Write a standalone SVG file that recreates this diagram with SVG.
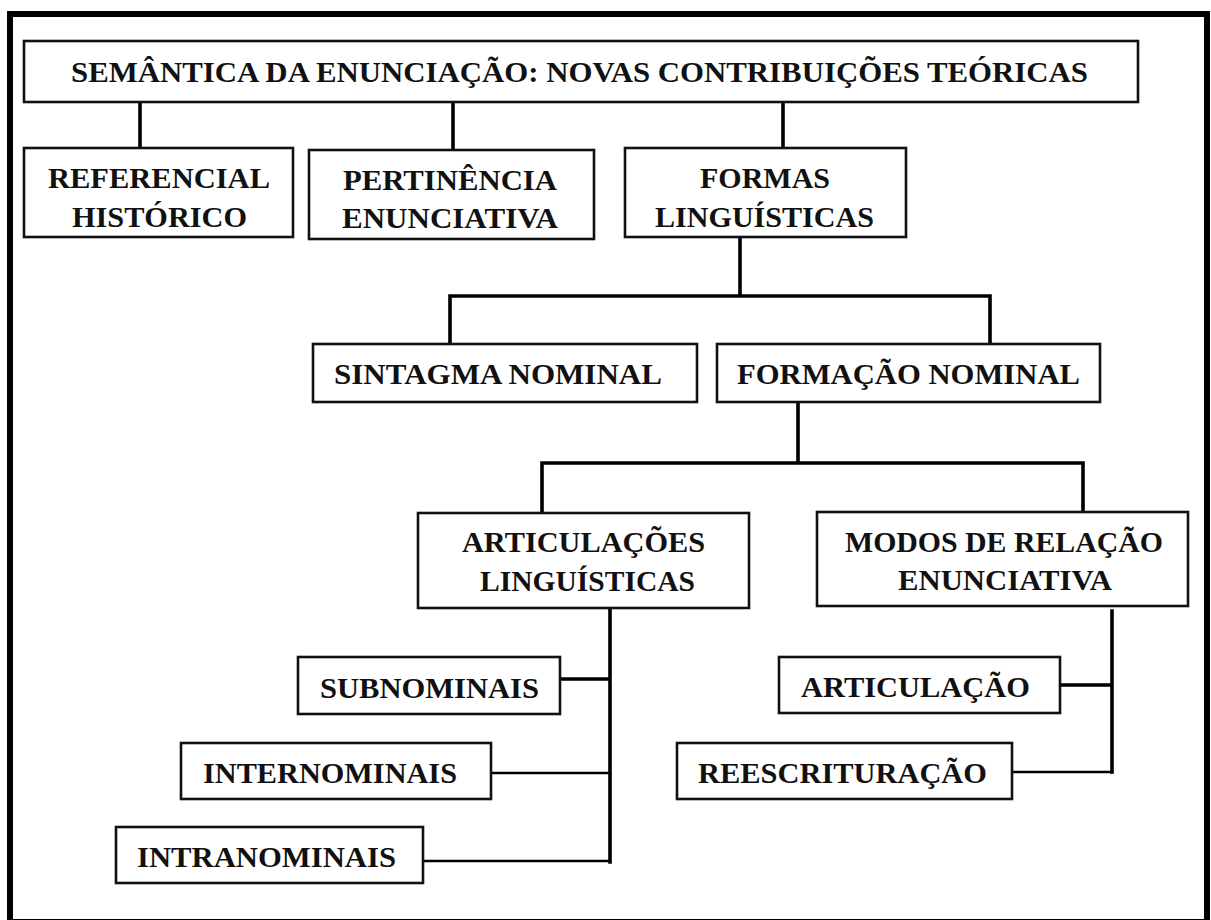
<svg xmlns="http://www.w3.org/2000/svg" width="1211" height="920" viewBox="0 0 1211 920">
  <style>
    .frame { fill: none; stroke: #000; stroke-width: 6; }
    .box { fill: #fff; stroke: #111; stroke-width: 2.6; }
    .lbl { font-family: "Liberation Serif", "Times New Roman", serif; font-weight: bold; font-size: 30px; fill: #111; }
    .wire { fill: none; stroke: #000; stroke-width: 3.6; stroke-linecap: square; }
    .thin { stroke-width: 2.6; }
  </style>
  <rect width="1211" height="920" fill="#fff"/>
  <!-- outer border -->
  <rect class="frame" x="10" y="14" width="1197" height="908"/>

  <g id="connectors">
    <path class="wire" d="M140 103 V147"/>
    <path class="wire" d="M453 103 V149"/>
    <path class="wire" d="M783 103 V147"/>
    <path class="wire" d="M740 238 V296 M450 296 H990 M450 296 V343 M990 296 V343"/>
    <path class="wire" d="M798 403 V463 M542 463 H1083 M542 463 V512 M1083 463 V511"/>
    <path class="wire" d="M610 609 V862 M561 679 H610"/>
    <path class="wire thin" d="M493 773 H610 M424 861 H610"/>
    <path class="wire" d="M1112 611 V772 M1061 685 H1112"/>
    <path class="wire thin" d="M1013 772 H1112"/>
  </g>

  <g id="title">
    <rect class="box" x="24" y="41" width="1114" height="61"/>
    <text class="lbl" x="71" y="82" textLength="1017" lengthAdjust="spacingAndGlyphs">SEMÂNTICA DA ENUNCIAÇÃO: NOVAS CONTRIBUIÇÕES TEÓRICAS</text>
  </g>

  <g id="referencial">
    <rect class="box" x="24" y="148" width="269" height="89"/>
    <text class="lbl" x="48" y="188" textLength="222" lengthAdjust="spacingAndGlyphs">REFERENCIAL</text>
    <text class="lbl" x="72" y="227" textLength="175" lengthAdjust="spacingAndGlyphs">HISTÓRICO</text>
  </g>

  <g id="pertinencia">
    <rect class="box" x="309" y="150" width="285" height="89"/>
    <text class="lbl" x="343" y="190" textLength="214" lengthAdjust="spacingAndGlyphs">PERTINÊNCIA</text>
    <text class="lbl" x="342" y="228" textLength="216" lengthAdjust="spacingAndGlyphs">ENUNCIATIVA</text>
  </g>

  <g id="formas">
    <rect class="box" x="625" y="148" width="281" height="89"/>
    <text class="lbl" x="700" y="188" textLength="130" lengthAdjust="spacingAndGlyphs">FORMAS</text>
    <text class="lbl" x="655" y="227" textLength="219" lengthAdjust="spacingAndGlyphs">LINGUÍSTICAS</text>
  </g>

  <g id="sintagma">
    <rect class="box" x="313" y="344" width="384" height="58"/>
    <text class="lbl" x="334" y="384" textLength="328" lengthAdjust="spacingAndGlyphs">SINTAGMA NOMINAL</text>
  </g>

  <g id="formacao">
    <rect class="box" x="717" y="344" width="383" height="58"/>
    <text class="lbl" x="737" y="384" textLength="343" lengthAdjust="spacingAndGlyphs">FORMAÇÃO NOMINAL</text>
  </g>

  <g id="articulacoes">
    <rect class="box" x="418" y="513" width="331" height="95"/>
    <text class="lbl" x="462" y="552" textLength="243" lengthAdjust="spacingAndGlyphs">ARTICULAÇÕES</text>
    <text class="lbl" x="480" y="591" textLength="215" lengthAdjust="spacingAndGlyphs">LINGUÍSTICAS</text>
  </g>

  <g id="modos">
    <rect class="box" x="817" y="512" width="371" height="94"/>
    <text class="lbl" x="845" y="552" textLength="318" lengthAdjust="spacingAndGlyphs">MODOS DE RELAÇÃO</text>
    <text class="lbl" x="898" y="590" textLength="214" lengthAdjust="spacingAndGlyphs">ENUNCIATIVA</text>
  </g>

  <g id="subnominais">
    <rect class="box" x="298" y="657" width="262" height="57"/>
    <text class="lbl" x="320" y="698" textLength="219" lengthAdjust="spacingAndGlyphs">SUBNOMINAIS</text>
  </g>

  <g id="internominais">
    <rect class="box" x="181" y="743" width="310" height="56"/>
    <text class="lbl" x="203" y="783" textLength="254" lengthAdjust="spacingAndGlyphs">INTERNOMINAIS</text>
  </g>

  <g id="intranominais">
    <rect class="box" x="116" y="827" width="307" height="56"/>
    <text class="lbl" x="137" y="867" textLength="259" lengthAdjust="spacingAndGlyphs">INTRANOMINAIS</text>
  </g>

  <g id="articulacao">
    <rect class="box" x="779" y="657" width="281" height="56"/>
    <text class="lbl" x="801" y="697" textLength="229" lengthAdjust="spacingAndGlyphs">ARTICULAÇÃO</text>
  </g>

  <g id="reescrituracao">
    <rect class="box" x="677" y="743" width="335" height="56"/>
    <text class="lbl" x="698" y="783" textLength="289" lengthAdjust="spacingAndGlyphs">REESCRITURAÇÃO</text>
  </g>
</svg>
